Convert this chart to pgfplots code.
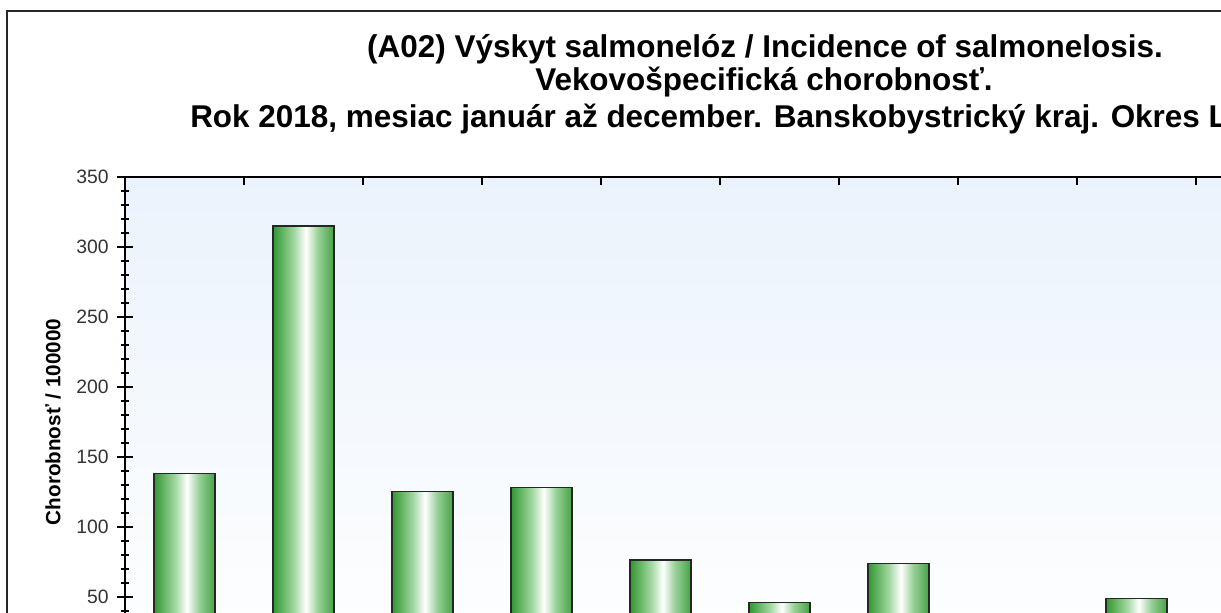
\documentclass[border=0pt]{standalone}
\usepackage{pgfplots}
\pgfplotsset{compat=1.18}
\usepackage{fontspec}
\setmainfont{Liberation Sans}
\definecolor{g0}{RGB}{20,84,20}
\definecolor{g1}{RGB}{30,122,30}
\definecolor{g2}{RGB}{42,148,42}
\definecolor{g3}{RGB}{160,214,160}
\definecolor{g4}{RGB}{150,208,150}
\definecolor{g5}{RGB}{40,144,40}
\definecolor{bgtop}{RGB}{234,243,252}
\pgfdeclarehorizontalshading{barshade}{100bp}{color(0bp)=(g0); color(8bp)=(g1); color(24bp)=(g2); color(42bp)=(g3); color(52bp)=(white); color(62bp)=(g4); color(80bp)=(g5); color(93bp)=(g1); color(100bp)=(g0)}
\tikzset{mybar/.style={draw=black!85, line width=1pt, shade, shading=barshade}}
\begin{document}
\begin{tikzpicture}
\path[use as bounding box, clip] (0,0) rectangle (915.75pt,459pt);
\fill[white] (0,0) rectangle (915.75pt,459pt);
\draw[black!85, line width=1pt] (5.25pt,-20pt) -- (5.25pt,450.75pt) -- (940pt,450.75pt);
\node[anchor=base, font=\fontsize{23.6pt}{27pt}\selectfont\bfseries, inner sep=0pt] at (573.75pt,415.9pt) {(A02) Výskyt salmonelóz / Incidence of salmonelosis.};
\node[anchor=base, font=\fontsize{23.6pt}{27pt}\selectfont\bfseries, inner sep=0pt] at (573pt,391.1pt) {Vekovošpecifická chorobnosť.};
\node[anchor=base west, font=\fontsize{23.6pt}{27pt}\selectfont\bfseries, inner sep=0pt] at (142.5pt,363pt) {Rok 2018, mesiac január až december. Banskobystrický kraj. Okres Lučenec.};
\begin{axis}[
  at={(93.75pt,326.25pt)}, anchor=north west,
  scale only axis, width=981.75pt, height=367.5pt,
  xmin=-0.5, xmax=10.5, ymin=0, ymax=350,
  axis background/.style={top color=bgtop, bottom color=white},
  axis line style={black, line width=1pt},
  xtick=\empty,
  ytick={0,50,...,350}, minor y tick num=4, ytick pos=left,
  tick align=center, major tick length=12pt, minor tick length=6pt,
  tick style={black, line width=1pt},
  /pgf/number format/assume math mode=true,
  yticklabel style={font=\fontsize{14.5pt}{16pt}\selectfont, text=black!80, inner sep=0pt, xshift=-6pt},
  ylabel={Chorobnosť / 100000},
  every axis y label/.style={at={(axis description cs:-0.055,0.5)}, rotate=90, anchor=center, font=\fontsize{15.5pt}{18pt}\selectfont\bfseries},
  ybar, bar width=45.75pt, bar shift=0pt,
]
\addplot[mybar] coordinates {(0,138)};
\addplot[mybar] coordinates {(1,315)};
\addplot[mybar] coordinates {(2,125.5)};
\addplot[mybar] coordinates {(3,128)};
\addplot[mybar] coordinates {(4,76.4)};
\addplot[mybar] coordinates {(5,46)};
\addplot[mybar] coordinates {(6,74)};
\addplot[mybar] coordinates {(7,0)};
\addplot[mybar] coordinates {(8,49)};
\end{axis}
\begin{axis}[
  at={(93.75pt,326.25pt)}, anchor=north west,
  scale only axis, width=981.75pt, height=367.5pt,
  xmin=-0.5, xmax=10.5, ymin=0, ymax=350,
  axis line style={black, line width=1pt},
  ytick=\empty,
  xtick={0.5,1.5,...,9.5}, xticklabels={},
  tick align=inside, major tick length=6pt,
  tick style={black, line width=1pt},
]
\end{axis}
\end{tikzpicture}
\end{document}
